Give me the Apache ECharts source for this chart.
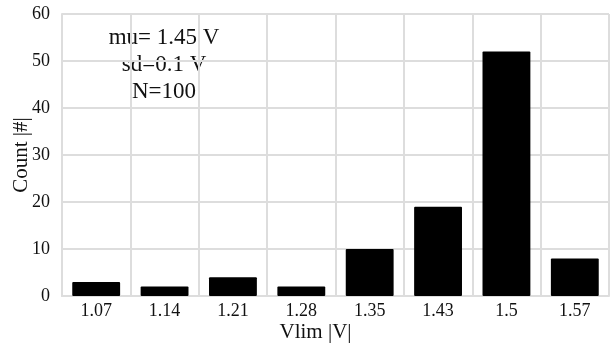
<!DOCTYPE html>
<html><head><meta charset="utf-8">
<script src="https://cdn.jsdelivr.net/npm/echarts@6/dist/echarts.min.js"></script>
<style>html,body{margin:0;padding:0;background:#fff}#c{width:610px;height:350px}</style>
</head><body><div id="c"></div>
<script>
var categories = ['1.07','1.14','1.21','1.28','1.35','1.43','1.5','1.57'];
var counts = [3, 2, 4, 2, 10, 19, 52, 8];
var yTicks = [0, 10, 20, 30, 40, 50, 60];
var annotationLines = ['mu= 1.45 V', 'sd=0.1 V', 'N=100'];
var font = '"Liberation Serif", "DejaVu Serif", serif';
var chart = echarts.init(document.getElementById('c'), null, {renderer: 'canvas'});
chart.setOption({
  animation: false,
  grid: {left: 62, right: 1, top: 14, bottom: 54, containLabel: false, outerBoundsMode: 'none'},
  xAxis: {
    type: 'category', data: categories,
    name: 'Vlim |V|', nameLocation: 'middle', nameGap: 26, nameMoveOverlap: false,
    nameTextStyle: {fontFamily: font, fontSize: 21, color: '#111', padding: [0, 40, 0, 0]},
    axisLine: {show: true, lineStyle: {color: '#ddd', width: 2}},
    axisTick: {show: false},
    axisLabel: {fontFamily: font, fontSize: 18, color: '#111', margin: 6},
    splitLine: {show: true, lineStyle: {color: '#ddd', width: 2}}
  },
  yAxis: {
    type: 'value', min: yTicks[0], max: yTicks[yTicks.length-1], interval: 10,
    name: 'Count |#|', nameLocation: 'middle', nameGap: 30, nameRotate: 90, nameMoveOverlap: false,
    nameTextStyle: {fontFamily: font, fontSize: 21, color: '#111'},
    axisLine: {show: true, lineStyle: {color: '#ddd', width: 2}},
    axisTick: {show: false},
    axisLabel: {fontFamily: font, fontSize: 18, color: '#111', margin: 12},
    splitLine: {show: true, lineStyle: {color: '#ddd', width: 2}}
  },
  series: [{
    type: 'bar', data: counts, barWidth: '70%',
    itemStyle: {color: '#000', borderRadius: 1}
  }],
  graphic: [{
    type: 'text', x: 164, y: 24,
    style: {
      text: annotationLines.join('\n'), font: '23px ' + font, fill: '#111',
      align: 'center', textAlign: 'center', lineHeight: 27
    }
  }]
});
</script></body></html>
